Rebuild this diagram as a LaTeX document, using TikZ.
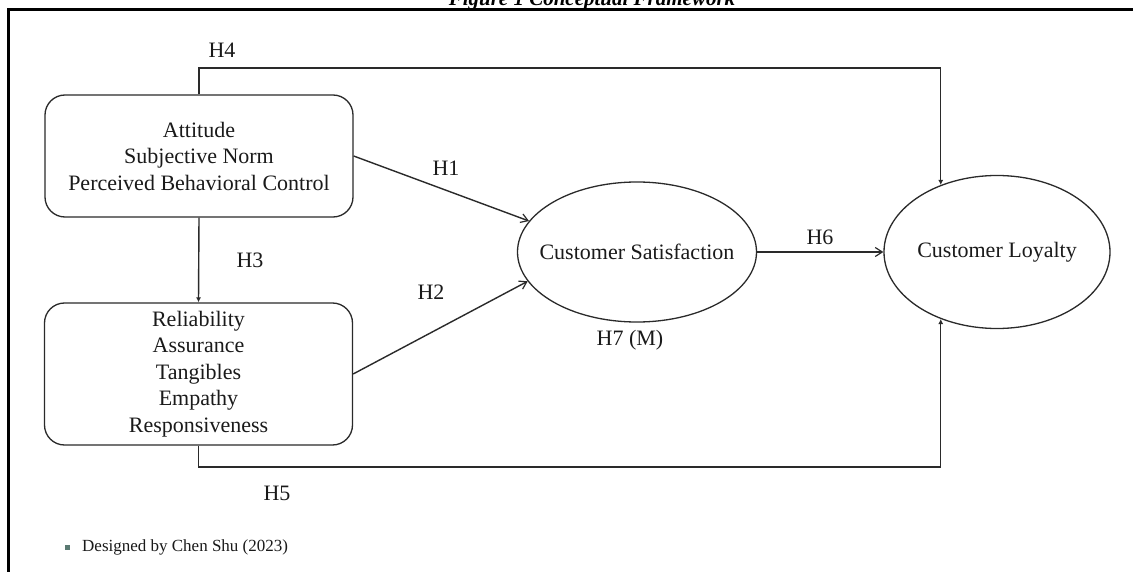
\documentclass[tikz,border=0pt]{standalone}
\usepackage{fontspec}
\setmainfont{Liberation Serif}
\usetikzlibrary{arrows.meta,shapes.geometric}
\definecolor{ink}{HTML}{1A1A1A}
\definecolor{linec}{HTML}{2A2A2A}
\definecolor{bulletc}{HTML}{5A7A72}
\begin{document}
\begin{tikzpicture}[x=1pt,y=-1pt,
  txt/.style={font=\fontsize{22}{26}\selectfont, text=ink, inner sep=0pt},
  lbl/.style={font=\fontsize{22}{26}\selectfont, text=ink, inner sep=0pt},
  conbox/.style={draw=linec, line width=1.3pt, rounded corners=20pt, align=center, inner sep=0pt,
     font=\fontsize{22}{26.5}\selectfont, text=ink},
  conell/.style={draw=linec, line width=1.3pt, ellipse, inner sep=0pt},
  arr/.style={draw=linec, line width=1.4pt, -{Straight Barb[length=7pt,width=9pt,line width=1.2pt]}},
  arrs/.style={draw=linec, line width=1.4pt, -{Latex[length=5pt,width=5pt]}},
]
\useasboundingbox (0,0) rectangle (1133,572);
\clip (0,0) rectangle (1133,572);
\fill[white] (0,0) rectangle (1133,572);
% frame
\draw[black, line width=3pt, line join=miter] (8,575) -- (8,10) -- (1136,10);
% title (cut at top, as in the reference)
\node[font=\fontsize{21}{24}\selectfont\bfseries\itshape, anchor=base, inner sep=0pt] (title) at (592,6) {Figure 1 Conceptual Framework};
% boxes
\node[conbox, minimum width=308pt, minimum height=122pt] (b1) at (199,156) {Attitude\\Subjective Norm\\Perceived Behavioral Control};
\node[conbox, minimum width=308pt, minimum height=142pt] (b2) at (198.5,374) {Reliability\\Assurance\\Tangibles\\Empathy\\Responsiveness};
% ellipses
\node[conell, minimum width=239pt, minimum height=140pt] (cs) at (637,252) {};
\node[txt] (cstext) at (cs.center) {Customer Satisfaction};
\node[conell, minimum width=226pt, minimum height=153pt] (cl) at (997,252) {};
\node[txt] (cltext) at (cl.center) {Customer Loyalty};
% helper coordinates
\coordinate (h4y) at (0,68);
\coordinate (h5y) at (0,467);
% connectors
\draw[arr] (b1.east) -- (cs.164);
\draw[arr] (b2.east) -- (cs.195);
\draw[arr] (cs.east) -- (cl.west);
\draw[arrs] (b1.south) -- (b2.north);
\draw[arrs, line join=miter] (b1.north) |- (cl.130 |- h4y) -- (cl.130);
\draw[arrs, line join=miter] (b2.south) |- (cl.230 |- h5y) -- (cl.230);
% labels
\node[lbl] (l4) at (222,50) {H4};
\node[lbl] (l1) at (446,168) {H1};
\node[lbl] (l3) at (250,260) {H3};
\node[lbl] (l2) at (431,292) {H2};
\node[lbl] (l6) at (820,237) {H6};
\node[lbl] (l7) at (630,340) {H7 (M)};
\node[lbl] (l5) at (277,493) {H5};
% note
\fill[bulletc] (64.5,544.5) rectangle (69.5,549.5);
\node[font=\fontsize{17}{20}\selectfont, text=ink, anchor=west, inner sep=0pt] (note) at (82,547) {Designed by Chen Shu (2023)};
\end{tikzpicture}
\end{document}
